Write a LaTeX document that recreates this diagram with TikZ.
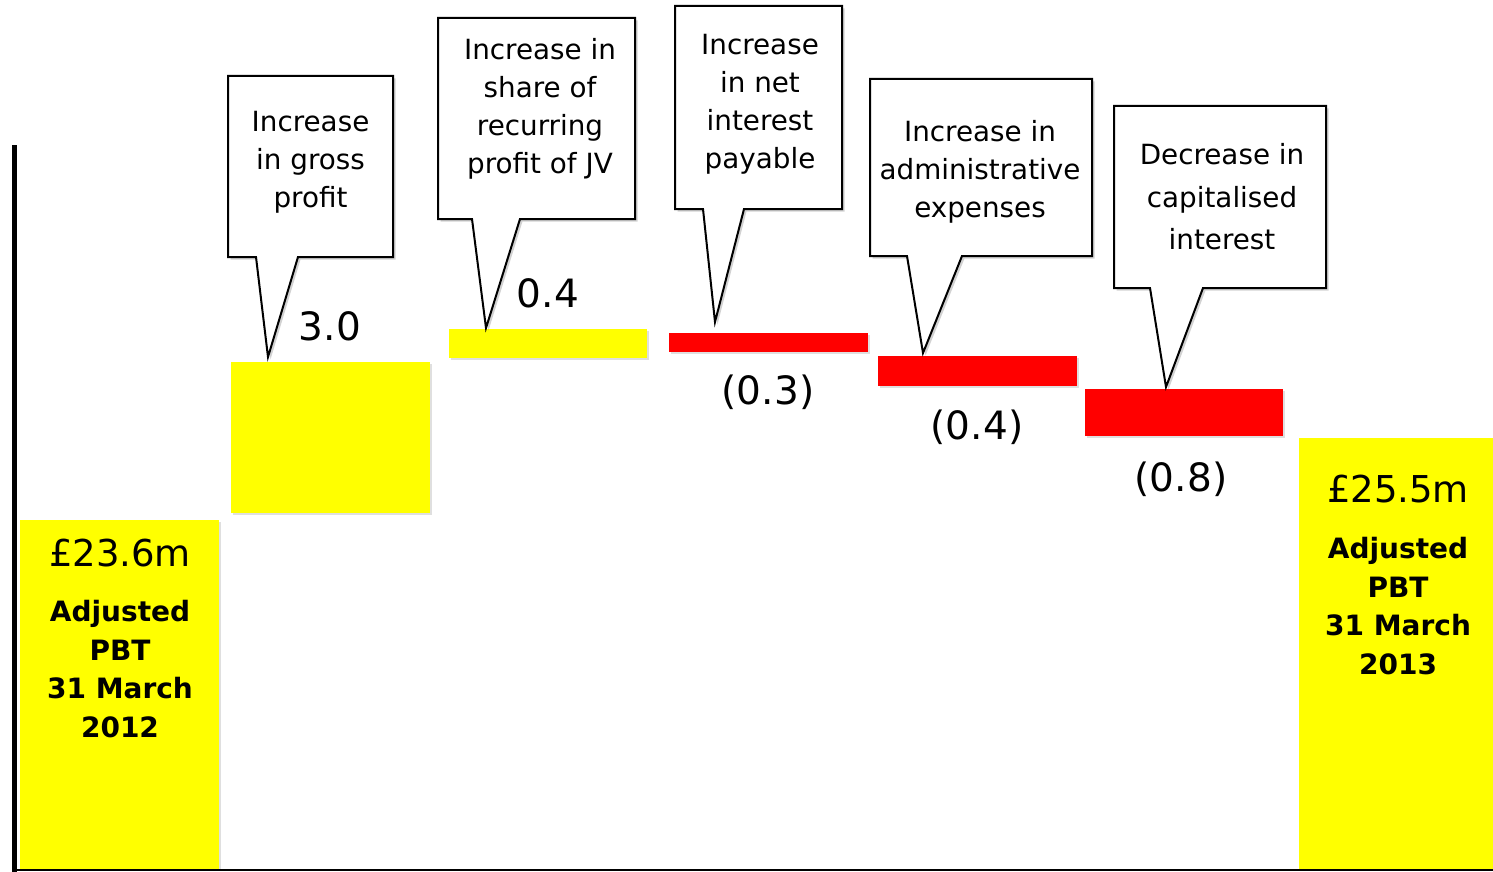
\documentclass[tikz,border=0pt]{standalone}
\usepackage{fontspec}
\setmainfont{DejaVu Sans}
\usetikzlibrary{shadows}
\definecolor{barY}{HTML}{FFFF00}
\definecolor{barR}{HTML}{FF0000}
\newcommand\calloutfont{\fontsize{27.8}{38}\selectfont}
\newcommand\valfont{\fontsize{39}{46}\selectfont}
\newcommand\totfont{\fontsize{37}{44}\selectfont}
\newcommand\lblfont{\fontsize{28}{38.5}\selectfont\bfseries}
\begin{document}
\begin{tikzpicture}[x=1pt,y=-1pt,
  shade/.style={drop shadow={shadow xshift=2pt,shadow yshift=-2pt,opacity=0.25}},
  ybar/.style={fill=barY,draw=none,shade},
  rbar/.style={fill=barR,draw=none,shade},
  callout/.style={draw=black,line width=2pt,fill=white,line join=miter,
    drop shadow={shadow xshift=2.5pt,shadow yshift=-2.5pt,opacity=0.35}},
  ctext/.style={align=center,font=\calloutfont,inner sep=0pt},
  val/.style={font=\valfont,inner sep=0pt},
  tot/.style={font=\totfont,inner sep=0pt},
  lbl/.style={align=center,font=\lblfont,inner sep=0pt}]
\useasboundingbox (0,0) rectangle (1493,872);
\fill[white] (0,0) rectangle (1493,872);

% totals
\path[ybar] (20,520) rectangle (219,869);
\path[ybar] (1299,438) rectangle (1493,869);
\node[tot] (v0) at (120,553) {£23.6m};
\node[lbl] (l0) at (120,669) {Adjusted\\PBT\\31 March\\2012};
\node[tot] (v6) at (1398,489) {£25.5m};
\node[lbl] (l6) at (1398,606) {Adjusted\\PBT\\31 March\\2013};

% change bars
\path[ybar] (231,362) rectangle (430,513);
\path[ybar] (449,329) rectangle (647,358);
\path[rbar] (669,333) rectangle (868,352);
\path[rbar] (878,356) rectangle (1077,386);
\path[rbar] (1085,389) rectangle (1283,436);

% values
\node[val] (v1) at (330,326) {3.0};
\node[val] (v2) at (548,293) {0.4};
\node[val] (v3) at (768,392) {(0.3)};
\node[val] (v4) at (977,427) {(0.4)};
\node[val] (v5) at (1181,479) {(0.8)};

% callouts
\path[callout] (228,76) -- (393,76) -- (393,257) -- (298,257) -- (268,357) -- (256,257) -- (228,257) -- cycle;
\node[ctext] (c1) at (310.5,162) {Increase\\in gross\\profit};

\path[callout] (438,18) -- (635,18) -- (635,219) -- (520,219) -- (486,328) -- (472,219) -- (438,219) -- cycle;
\node[ctext] (c2) at (540,109) {Increase in\\share of\\recurring\\profit of JV};

\path[callout] (675,6) -- (842,6) -- (842,209) -- (744,209) -- (715,322) -- (703,209) -- (675,209) -- cycle;
\node[ctext] (c3) at (760,104) {Increase\\in net\\interest\\payable};

\path[callout] (870,79) -- (1092,79) -- (1092,256) -- (962,256) -- (923,353) -- (907,256) -- (870,256) -- cycle;
\node[ctext] (c4) at (980,171.5) {Increase in\\administrative\\expenses};

\path[callout] (1114,106) -- (1326,106) -- (1326,288) -- (1203,288) -- (1166,387) -- (1150,288) -- (1114,288) -- cycle;
\node[ctext,font=\fontsize{27.8}{42.5}\selectfont] (c5) at (1222,197) {Decrease in\\capitalised\\interest};

% axes
\coordinate (ytop) at (14.5,145);
\coordinate (origin) at (14.5,870);
\coordinate (xend) at (1493,870);
\draw[line width=4.5pt] (ytop) -- (14.5,872);
\draw[line width=2.5pt] (origin) -- (xend);
\end{tikzpicture}
\end{document}
